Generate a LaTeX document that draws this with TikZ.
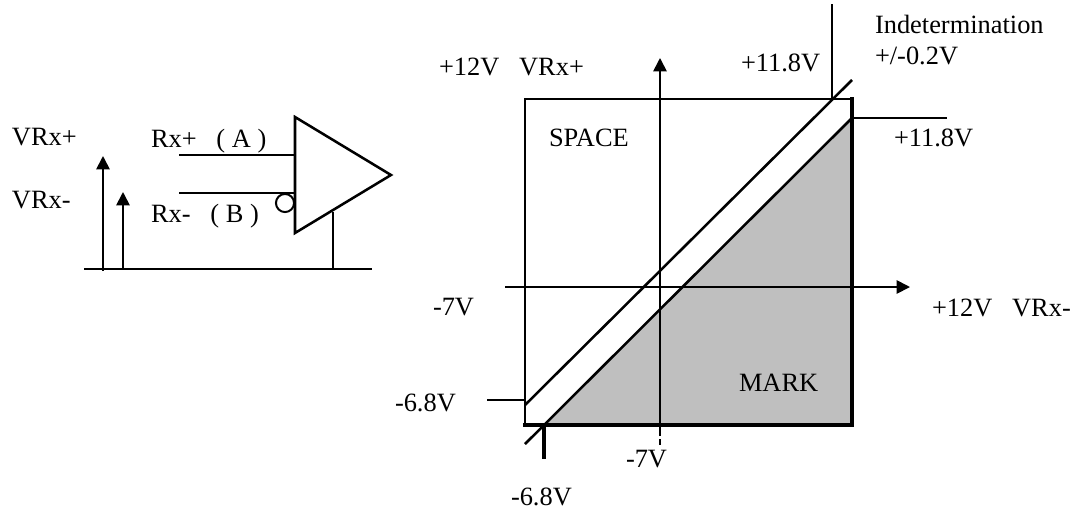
\documentclass[tikz,border=0pt]{standalone}
\usepackage{fontspec}
\setmainfont{Liberation Serif}
\usetikzlibrary{arrows.meta}
\begin{document}
\begin{tikzpicture}[x=0.75pt,y=-0.75pt,
        lbl/.style={anchor=base west,inner sep=0pt,outer sep=0pt,font=\fontsize{19.8pt}{23pt}\selectfont},
        wire/.style={line width=1.9pt},
        thinwire/.style={line width=1.3pt},
        bigtip/.style={-{Triangle[length=10pt,width=10pt]}}]
        \useasboundingbox (0,0) rectangle (1074,512);

        % Receiver
        \coordinate (top) at (295,117);
        \coordinate (bot) at (295,233);
        \coordinate (apex) at (391,175);
        \coordinate (inp) at (179,155);
        \coordinate (inpend) at (295,155);
        \coordinate (inm) at (179,193);
        \coordinate (inmend) at (295,193);
        \draw[wire, line join=miter] (top) -- (apex) -- (bot) -- cycle;
        \draw[wire] (inp) -- (inpend);
        \draw[wire] (inm) -- (inmend);
        \draw[line width=1.5pt, fill=white] (285,203) circle (6.8pt);

        % Ground and voltage arrows
        \coordinate (gl) at (84,269);
        \coordinate (gr) at (372,269);
        \draw[wire] (gl) -- (gr);
        \draw[line width=2.2pt] (333,212) -- (333,269);
        \draw[thinwire, bigtip] (103,271) -- (103,156);
        \draw[thinwire, bigtip] (123,269) -- (123,192);

        % Mark region
        \fill[black!25] (545,425) -- (852,118) -- (852,425) -- cycle;

        % Axes
        \draw[thinwire, bigtip] (505,287) -- (910,287);
        \draw[thinwire, bigtip] (660,436) -- (660,58);
        \draw[line width=0.8pt] (660,439) -- (660,445);

        % Square
        \draw[wire, line cap=rect] (525,425) -- (525,99) -- (852,99);
        \draw[line width=2.4pt, line cap=rect] (525,425) -- (852,425) -- (852,99);

        % Threshold lines
        \draw[wire] (525,405) -- (852,80);
        \draw[wire] (525,444) -- (852,118);
        \draw[wire] (832,4) -- (832,99);
        \draw[wire] (852,118) -- (947,118);
        \draw[wire] (487,400) -- (525,400);
        \draw[line width=2.4pt] (544,423) -- (544,459);

        % Labels
        \node[lbl] (vp) at (12,145) {VRx+};
        \node[lbl] (vm) at (12,208) {VRx-};
        \node[lbl] (rxp) at (151,147) {Rx+\ \ \ ( A )};
        \node[lbl] (rxm) at (151,222) {Rx-\ \ \ ( B )};
        \node[lbl] (yp) at (439,75) {+12V\ \ \ VRx+};
        \node[lbl] (ytop) at (741,71) {+11.8V};
        \node[lbl] (ind) at (875,33) {Indetermination};
        \node[lbl] (indv) at (875,64) {+/-0.2V};
        \node[lbl] (xtop) at (894,146) {+11.8V};
        \node[lbl] (space) at (549,146) {SPACE};
        \node[lbl] (ym) at (433,315) {-7V};
        \node[lbl] (xp) at (932,316) {+12V\ \ \ VRx-};
        \node[lbl] (mark) at (739,391) {MARK};
        \node[lbl] (yl) at (395,411) {-6.8V};
        \node[lbl] (xm) at (626,467) {-7V};
        \node[lbl] (xl) at (511,505) {-6.8V};
\end{tikzpicture}
\end{document}
